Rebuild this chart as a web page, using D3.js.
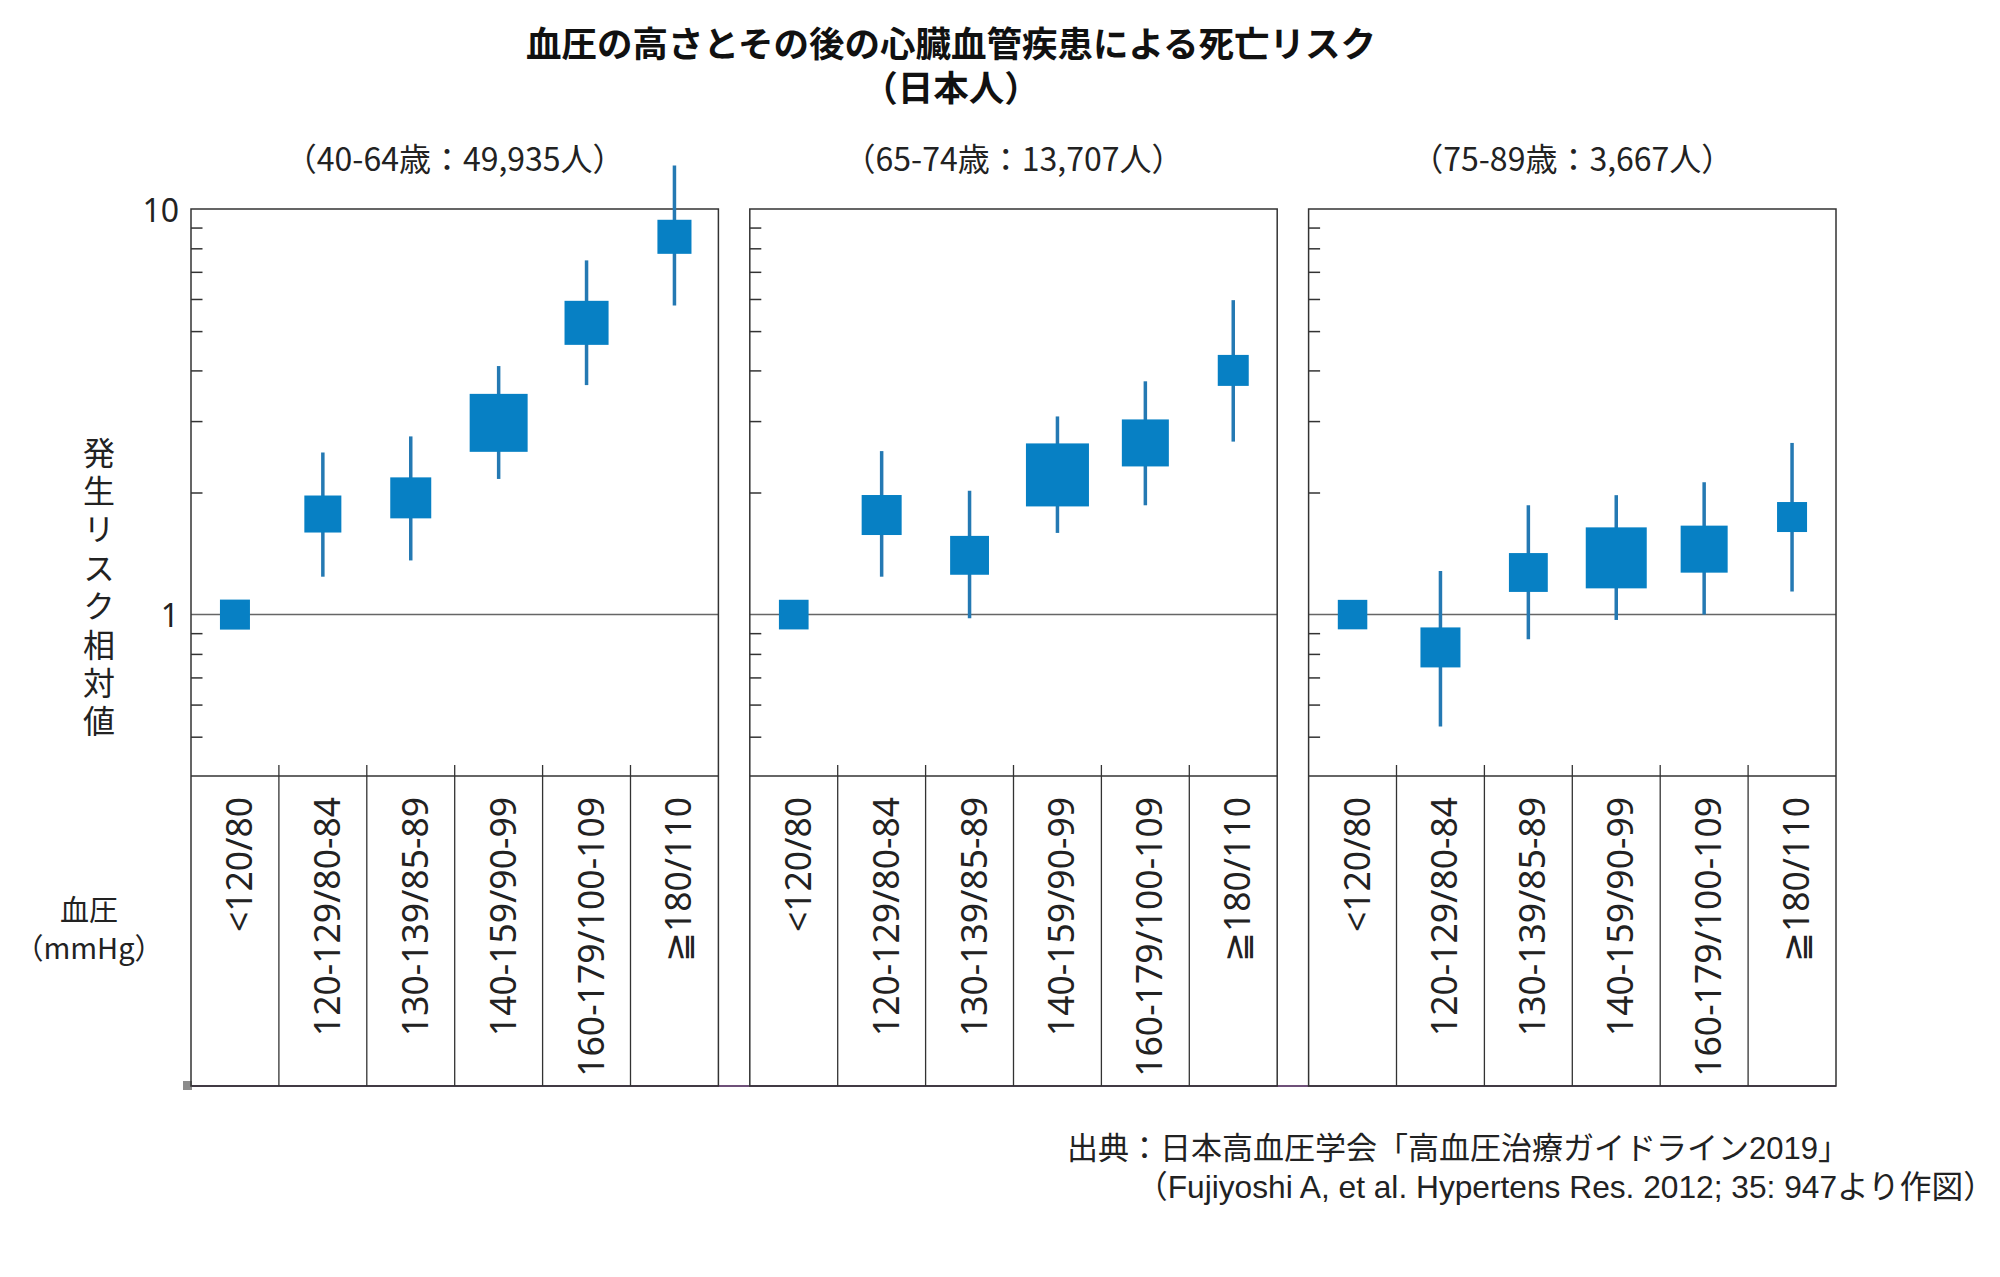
<!DOCTYPE html>
<html>
<head>
<meta charset="utf-8">
<script src="https://cdn.jsdelivr.net/npm/d3@7"></script>
<style>
  body { margin: 0; background: #fff; }
  text { font-family: "Noto Sans CJK JP", "Noto Sans", sans-serif; fill: #222; }
</style>
</head>
<body>
<svg id="chart"></svg>
<script>
// blood pressure categories (mmHg)
const categories = ["<120/80", "120-129/80-84", "130-139/85-89", "140-159/90-99", "160-179/100-109", "≧180/110"];
const groups = ["（40-64歳：49,935人）", "（65-74歳：13,707人）", "（75-89歳：3,667人）"];

// hazard ratio, 95% CI, weight (box area)
const hr40 = [1.00, 1.77, 1.94, 2.97, 5.24, 8.54];
const lo40 = [1.00, 1.24, 1.36, 2.16, 3.68, 5.78];
const hi40 = [1.00, 2.51, 2.75, 4.10, 7.47, 12.8];
const w40  = [9.0, 13.7, 16.8, 33.6, 19.4, 11.6];

const hr65 = [1.00, 1.76, 1.40, 2.21, 2.65, 4.00];
const lo65 = [1.00, 1.24, 0.98, 1.59, 1.86, 2.67];
const hi65 = [1.00, 2.53, 2.02, 3.08, 3.76, 5.96];
const w65  = [8.8, 16.0, 15.1, 39.7, 22.1, 9.6];

const hr75 = [1.00, 0.83, 1.27, 1.38, 1.45, 1.74];
const lo75 = [1.00, 0.53, 0.87, 0.97, 1.00, 1.14];
const hi75 = [1.00, 1.28, 1.86, 1.97, 2.12, 2.65];
const w75  = [8.7, 16.0, 15.1, 37.2, 22.1, 9.0];

const minorTicks = [0.5, 0.6, 0.7, 0.8, 0.9, 2, 3, 4, 5, 6, 7, 8, 9];
const majorTicks = [1, 10];

const yTitle = "発生リスク相対値";
const titleLines = ["血圧の高さとその後の心臓血管疾患による死亡リスク", "（日本人）"];
const source1 = "出典：日本高血圧学会「高血圧治療ガイドライン2019」";
const source2 = "（Fujiyoshi A, et al. Hypertens Res. 2012; 35: 947より作図）";

const panels = [
  { label: groups[0], hr: hr40, lo: lo40, hi: hi40, w: w40 },
  { label: groups[1], hr: hr65, lo: lo65, hi: hi65, w: w65 },
  { label: groups[2], hr: hr75, lo: lo75, hi: hi75, w: w75 }
];

const width = 2000, height = 1277;
const plotTop = 209, plotBottom = 776, tableBottom = 1086;
const boxColor = "#0780c4", whiskerColor = "#2479b3", frameColor = "#333";

const svg = d3.select("#chart")
  .attr("width", width)
  .attr("height", height);

const x0 = d3.scaleBand()
  .domain(groups)
  .range([191, 1836])
  .paddingInner(0.0562);

const y = d3.scaleLog()
  .domain([0.4, 10])
  .range([plotBottom, plotTop]);

const side = d3.scaleSqrt()
  .domain([0, 1])
  .range([0, 10]);

// title, two lines in one text element
svg.append("text")
  .attr("text-anchor", "middle")
  .style("font-size", "35.5px").style("font-weight", 700).style("fill", "#111")
  .selectAll("tspan")
  .data(titleLines)
  .enter()
  .append("tspan")
  .attr("x", 951)
  .attr("y", (d, i) => 57 + i * 44)
  .text(d => d);

// bottom baseline across all panels
svg.append("line")
  .attr("x1", 187).attr("x2", x0.range()[1])
  .attr("y1", tableBottom).attr("y2", tableBottom)
  .attr("stroke", "#6e5078").attr("stroke-width", 2);
svg.append("rect")
  .attr("x", 183).attr("y", tableBottom - 5)
  .attr("width", 9).attr("height", 9)
  .attr("fill", "#8c8c8c");

panels.forEach(p => {
  const left = x0(p.label);
  const right = left + x0.bandwidth();
  const x = d3.scaleBand().domain(categories).range([left, right]);
  const g = svg.append("g");

  // subtitle
  g.append("text")
    .attr("x", (left + right) / 2).attr("y", 171)
    .attr("text-anchor", "middle")
    .style("font-size", "32px")
    .text(p.label);

  // minor ticks on the inside of the left edge
  const ax = g.append("g")
    .attr("transform", `translate(${left},0)`)
    .call(d3.axisRight(y).tickValues(minorTicks).tickSize(11.5).tickFormat(""));
  ax.select(".domain").remove();
  ax.selectAll("line").attr("stroke", frameColor).attr("stroke-width", 1.5);

  // reference line at 1
  g.append("line")
    .attr("x1", left).attr("x2", right)
    .attr("y1", y(1)).attr("y2", y(1))
    .attr("stroke", "#666").attr("stroke-width", 1.5);

  // bottom of the plot area
  g.append("line")
    .attr("x1", left).attr("x2", right)
    .attr("y1", plotBottom).attr("y2", plotBottom)
    .attr("stroke", frameColor).attr("stroke-width", 1.5);

  // column dividers for the category table
  g.selectAll(".div")
    .data(categories.slice(1))
    .enter()
    .append("line")
    .attr("x1", d => x(d)).attr("x2", d => x(d))
    .attr("y1", plotBottom - 11).attr("y2", tableBottom)
    .attr("stroke", frameColor).attr("stroke-width", 1.3);

  // frame
  g.append("rect")
    .attr("x", left).attr("y", plotTop)
    .attr("width", right - left).attr("height", tableBottom - plotTop)
    .attr("fill", "none")
    .attr("stroke", frameColor).attr("stroke-width", 1.5);

  const rows = categories.map((c, i) => ({ c, hr: p.hr[i], lo: p.lo[i], hi: p.hi[i], w: p.w[i] }));

  // confidence intervals
  g.selectAll(".ci")
    .data(rows.filter(d => d.lo !== d.hi))
    .enter()
    .append("line")
    .attr("x1", d => x(d.c) + x.bandwidth() / 2)
    .attr("x2", d => x(d.c) + x.bandwidth() / 2)
    .attr("y1", d => y(d.lo)).attr("y2", d => y(d.hi))
    .attr("stroke", whiskerColor).attr("stroke-width", 3.5);

  // point estimate boxes
  g.selectAll(".box")
    .data(rows)
    .enter()
    .append("rect")
    .attr("x", d => x(d.c) + x.bandwidth() / 2 - side(d.w) / 2)
    .attr("y", d => y(d.hr) - side(d.w) / 2)
    .attr("width", d => side(d.w))
    .attr("height", d => side(d.w))
    .attr("fill", boxColor);

  // rotated category labels
  g.selectAll(".cat")
    .data(categories)
    .enter()
    .append("text")
    .attr("transform", d => `translate(${x(d) + x.bandwidth() / 2 + 3},797) rotate(-90)`)
    .attr("text-anchor", "end")
    .attr("dominant-baseline", "central")
    .style("font-family", "'Noto Sans', sans-serif")
    .style("font-size", "35.5px")
    .text(d => d);
});

// y tick labels
const left0 = x0(groups[0]);
svg.selectAll(".ylab")
  .data(majorTicks)
  .enter()
  .append("text")
  .attr("x", left0 - 12)
  .attr("y", d => y(d))
  .attr("text-anchor", "end")
  .attr("dominant-baseline", "central")
  .style("font-family", "'Noto Sans', sans-serif")
  .style("font-size", "32px")
  .text(d => d);

// vertical y-axis title
svg.append("text")
  .attr("x", 99).attr("y", 590)
  .attr("text-anchor", "middle")
  .style("writing-mode", "vertical-rl")
  .style("letter-spacing", "6.4px")
  .style("font-size", "32px")
  .text(yTitle);

// x-axis title
svg.append("text")
  .attr("x", 89).attr("y", 921)
  .attr("text-anchor", "middle")
  .style("font-size", "29px")
  .text("血圧");
svg.append("text")
  .attr("x", 89).attr("y", 959)
  .attr("text-anchor", "middle")
  .style("font-size", "29px")
  .text("（mmHg）");

// source
svg.append("text")
  .attr("x", 1067).attr("y", 1159)
  .style("font-family", "'Liberation Sans', 'Noto Sans CJK JP', sans-serif")
  .style("font-size", "31px")
  .text(source1);
svg.append("text")
  .attr("x", 1136).attr("y", 1198)
  .style("font-family", "'Liberation Sans', 'Noto Sans CJK JP', sans-serif")
  .style("font-size", "31.7px")
  .text(source2);
</script>
</body>
</html>
